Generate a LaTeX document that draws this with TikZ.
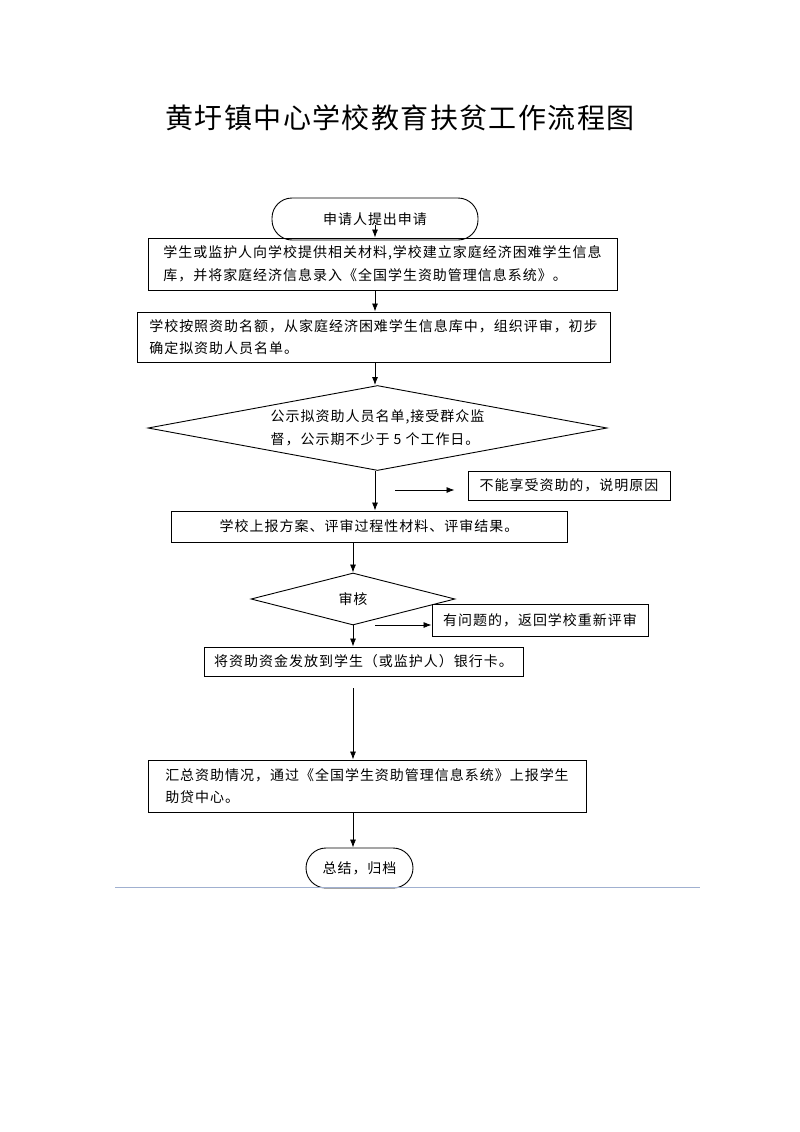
\documentclass[tikz,border=0pt]{standalone}
\usepackage{fontspec}
\usepackage{tikz}
\usetikzlibrary{shapes.geometric,arrows.meta}
\newfontfamily\cjk[LetterSpace=7]{Noto Sans CJK SC}
\newfontfamily\cjktitle[LetterSpace=5]{Noto Sans CJK SC}
\definecolor{rulecol}{RGB}{160,176,208}

\begin{document}
\begin{tikzpicture}[x=1pt,y=-1pt,>={Latex[length=8pt,width=6pt]},
    txt/.style={font=\cjk\fontsize{14}{22.5}\selectfont},
    box/.style={txt,draw,line width=0.9pt,inner sep=0pt,align=left},
    term/.style={box,rounded corners=20pt,align=center},
    dec/.style={box,diamond,shape aspect=5.4,align=left},
    arr/.style={->,line width=0.8pt}]
  \useasboundingbox (0,0) rectangle (800,1132);
  \node (title) at (400,118) {\cjktitle\fontsize{28}{30}\selectfont 黄圩镇中心学校教育扶贫工作流程图};
  % main column
  \node[term,minimum width=206pt,minimum height=42pt] (apply) at (375,219) {申请人提出申请};
  \node[box,minimum width=469pt,minimum height=52pt] (build) at (382.5,264)
    {学生或监护人向学校提供相关材料,学校建立家庭经济困难学生信息\\库，并将家庭经济信息录入《全国学生资助管理信息系统》。};
  \node[box,minimum width=473pt,minimum height=50pt] (review) at (373.5,337)
    {学校按照资助名额，从家庭经济困难学生信息库中，组织评审，初步\\确定拟资助人员名单。};
  \node[dec,minimum width=459pt,minimum height=85pt] (public) at (377.5,428)
    {公示拟资助人员名单,接受群众监\\督，公示期不少于 5 个工作日。};
  \node[box,minimum width=396pt,minimum height=31pt,align=center] (report) at (369,526.5)
    {学校上报方案、评审过程性材料、评审结果。};
  \node[dec,minimum width=204pt,minimum height=52pt,align=center] (check) at (353,599) {审核};
  \node[box,minimum width=319pt,minimum height=29pt,align=center] (pay) at (363.5,661.5)
    {将资助资金发放到学生（或监护人）银行卡。};
  \node[box,minimum width=438pt,minimum height=52pt] (sum) at (367,786)
    {汇总资助情况，通过《全国学生资助管理信息系统》上报学生\\助贷中心。};
  \node[term,minimum width=107pt,minimum height=40pt] (archive) at (359.5,868) {总结，归档};
  % side boxes
  \node[box,minimum width=202pt,minimum height=29pt,align=center,fill=white] (refuse) at (569,485.5)
    {不能享受资助的，说明原因};
  \node[box,minimum width=216pt,minimum height=32pt,align=center,fill=white] (redo) at (540,620)
    {有问题的，返回学校重新评审};
  % connectors
  \draw[arr] ([yshift=-6pt]apply.center) -- (apply.center |- build.north);
  \draw[arr] (build.south -| apply.center) -- (review.north -| apply.center);
  \draw[arr] (review.south -| apply.center) -- (public.north -| apply.center);
  \draw[arr] (public.south -| apply.center) -- (report.north -| apply.center);
  \coordinate (nogo) at (395,490);
  \draw[arr,shorten >=13pt] (nogo) -- (nogo -| refuse.west);
  \draw[arr] (report.south -| check.north) -- (check.north);
  \coordinate (back) at (375,625);
  \draw[arr] (back) -- (back -| redo.west);
  \draw[arr] (check.south) -- (pay.north -| check.south);
  \draw[arr,shorten <=12pt] (pay.south -| check.south) -- (sum.north -| check.south);
  \draw[arr] (sum.south -| check.south) -- (archive.north -| check.south);
  \draw[rulecol,line width=1pt] (115,887) -- (700,887);
\end{tikzpicture}
\end{document}
